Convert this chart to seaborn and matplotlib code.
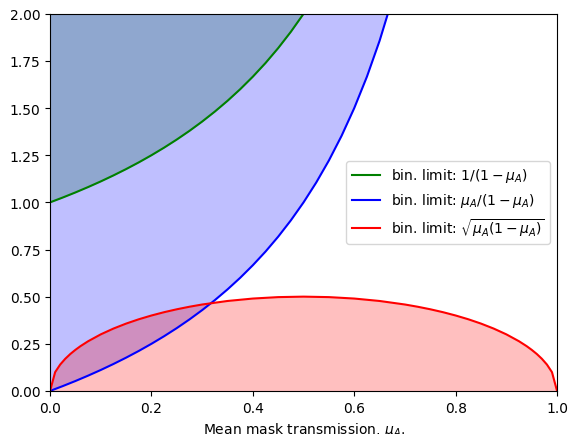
import matplotlib
matplotlib.use("Agg")
import matplotlib.pyplot as plt
import numpy as np
import seaborn as sns

# values
mu_green = [0.0, 0.025, 0.05, 0.075, 0.1, 0.125, 0.15, 0.175, 0.2, 0.225, 0.25,
            0.275, 0.3, 0.325, 0.35, 0.375, 0.4, 0.425, 0.45, 0.475, 0.5, 0.525, 0.55]
lim_green = [1.0, 1.0256, 1.0526, 1.0811, 1.1111, 1.1429, 1.1765, 1.2121, 1.25, 1.2903, 1.3333,
             1.3793, 1.4286, 1.4815, 1.5385, 1.6, 1.6667, 1.7391, 1.8182, 1.9048, 2.0, 2.1053, 2.2222]

mu_blue = [0.0, 0.025, 0.05, 0.075, 0.1, 0.125, 0.15, 0.175, 0.2, 0.225, 0.25, 0.275,
           0.3, 0.325, 0.35, 0.375, 0.4, 0.425, 0.45, 0.475, 0.5, 0.525, 0.55, 0.575,
           0.6, 0.625, 0.65, 0.675, 0.7]
lim_blue = [0.0, 0.0256, 0.0526, 0.0811, 0.1111, 0.1429, 0.1765, 0.2121, 0.25, 0.2903, 0.3333, 0.3793,
            0.4286, 0.4815, 0.5385, 0.6, 0.6667, 0.7391, 0.8182, 0.9048, 1.0, 1.1053, 1.2222, 1.3529,
            1.5, 1.6667, 1.8571, 2.0769, 2.3333]

mu_red = [0.0, 0.01, 0.02, 0.03, 0.04, 0.05, 0.06, 0.075, 0.1, 0.125, 0.15, 0.175, 0.2, 0.225,
          0.25, 0.275, 0.3, 0.35, 0.4, 0.45, 0.5, 0.55, 0.6, 0.65, 0.7, 0.725, 0.75, 0.775, 0.8,
          0.825, 0.85, 0.875, 0.9, 0.925, 0.94, 0.95, 0.96, 0.97, 0.98, 0.99, 1.0]
lim_red = [0.0, 0.0995, 0.14, 0.1706, 0.196, 0.2179, 0.2375, 0.2634, 0.3, 0.3307, 0.3571, 0.38, 0.4, 0.4176,
           0.433, 0.4465, 0.4583, 0.477, 0.4899, 0.4975, 0.5, 0.4975, 0.4899, 0.477, 0.4583, 0.4465, 0.433,
           0.4176, 0.4, 0.38, 0.3571, 0.3307, 0.3, 0.2634, 0.2375, 0.2179, 0.196, 0.1706, 0.14, 0.0995, 0.0]

labels = [r"bin. limit: $1/(1-\mu_A)$",
          r"bin. limit: $\mu_A/(1-\mu_A)$",
          r"bin. limit: $\sqrt{\mu_A(1-\mu_A)}$"]

fig = plt.figure(figsize=(5.69, 4.35), dpi=100)
ax = fig.add_axes([0.088, 0.099, 0.891, 0.867])

sns.lineplot(x=mu_green, y=lim_green, color="green", label=labels[0], ax=ax)
sns.lineplot(x=mu_blue, y=lim_blue, color="blue", label=labels[1], ax=ax)
sns.lineplot(x=mu_red, y=lim_red, color="red", label=labels[2], ax=ax)

ax.fill_between(mu_green, lim_green, 2, color="green", alpha=0.25, lw=0)
ax.fill_between(mu_blue, lim_blue, 2, color="blue", alpha=0.25, lw=0)
ax.fill_between(mu_red, 0, lim_red, color="red", alpha=0.25, lw=0)

ax.set_xlim(0, 1)
ax.set_ylim(0, 2)
ax.set_yticks(np.arange(0, 2.01, 0.25))
ax.set_xlabel(r"Mean mask transmission, $\mu_A$.")
ax.legend(loc="center right")

fig.savefig("out.png", dpi=100)
